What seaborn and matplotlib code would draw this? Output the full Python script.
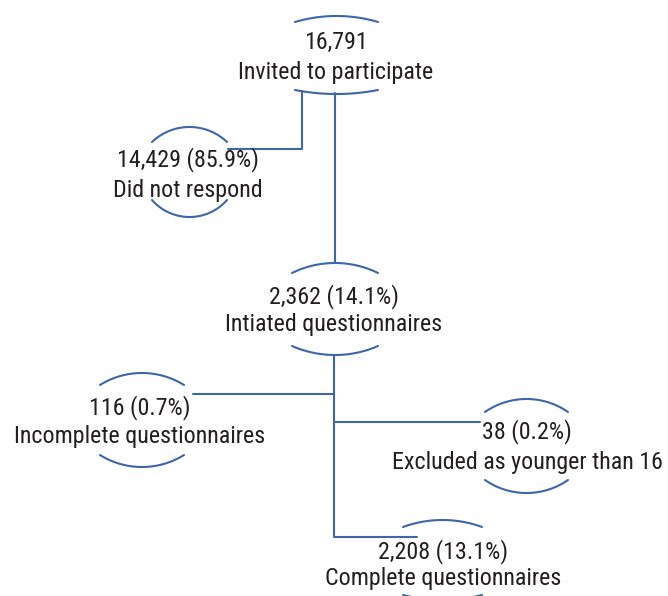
import numpy as np
import pandas as pd
import matplotlib
matplotlib.use("Agg")
import matplotlib.pyplot as plt
import seaborn as sns

# flow data
labels = ["Invited to participate", "Did not respond", "Intiated questionnaires",
          "Incomplete questionnaires", "Excluded as younger than 16",
          "Complete questionnaires"]
counts = ["16,791", "14,429", "2,362", "116", "38", "2,208"]
percents = ["", "85.9%", "14.1%", "0.7%", "0.2%", "13.1%"]

sns.set_theme(style="white")
plt.rcParams['font.family'] = ['Roboto Condensed', 'DejaVu Sans']

blue = "#3f66a8"

# layout (pixel coordinates): centre x, number y, label y,
# arc x0, x1, top ends y, top peak y, bottom ends y, bottom peak y
layout = [
    (336, 42, 72, 295, 378, 22, 16, 90, 94),
    (188, 160, 190, 152, 227, 142, 127, 200, 217),
    (334, 297, 325, 292, 378, 273, 263, 346, 355),
    (140, 408, 437, 100, 184, 385, 373, 455, 467),
    (527, 432, 462, 485, 568, 412, 399, 480, 493),
    (443, 552, 578, 403, 482, 527, 520, 595, 600),
]

# connector segments
connectors = [
    [(302, 91), (302, 149), (228, 149)],
    [(335, 93), (335, 263)],
    [(334, 355), (334, 537), (417, 537)],
    [(193, 394), (334, 394)],
    [(334, 422), (480, 422)],
]

fig = plt.figure(figsize=(6.68, 5.96), dpi=100)
ax = fig.add_axes([0, 0, 1, 1])

rows = []
for i, seg in enumerate(connectors):
    for j, (x, y) in enumerate(seg):
        rows.append({"seg": i, "order": j, "x": x, "y": y})


def circ_arc(x0, x1, ends, peak, n=60):
    c = (x1 - x0) / 2
    s = abs(ends - peak)
    r = (c ** 2 + s ** 2) / (2 * s)
    xm = (x0 + x1) / 2
    xs = np.linspace(x0, x1, n)
    d = r - np.sqrt(r ** 2 - (xs - xm) ** 2)
    sign = 1 if ends > peak else -1
    return xs, peak + sign * d


for k, (cx, ny, ly, x0, x1, te, tp, be, bp) in enumerate(layout):
    for name, ends, peak in (("t", te, tp), ("b", be, bp)):
        xs, ys = circ_arc(x0, x1, ends, peak)
        for j in range(len(xs)):
            rows.append({"seg": f"{name}{k}", "order": j, "x": xs[j], "y": ys[j]})
df = pd.DataFrame(rows)

sns.lineplot(data=df, x="x", y="y", units="seg", estimator=None, sort=False,
             color=blue, linewidth=1.5, ax=ax)

for k, (cx, ny, ly, *_rest) in enumerate(layout):
    top = counts[k] if not percents[k] else f"{counts[k]} ({percents[k]})"
    ax.text(cx, ny, top, ha="center", va="center", fontsize=17.3, color="#231f20")
    ax.text(cx, ly, labels[k], ha="center", va="center", fontsize=17.3, color="#231f20")

ax.set_xlim(0, 668)
ax.set_ylim(596, 0)
ax.axis("off")
fig.savefig("out.png", dpi=100)
